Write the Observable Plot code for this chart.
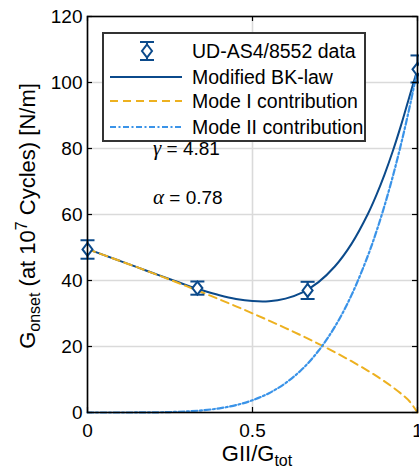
<!DOCTYPE html>
<html><head><meta charset="utf-8">
<script src="https://cdn.jsdelivr.net/npm/d3@7"></script>
<script src="https://cdn.jsdelivr.net/npm/@observablehq/plot@0.6"></script>
<style>body{margin:0;background:#fff} svg{display:block}</style>
</head><body><div id="chart"></div>
<script>
// ---- data ----
const xTicks = [0, 0.5, 1];
const yTicks = [0, 20, 40, 60, 80, 100, 120];

// measured points (mode mixity, mean, lower, upper)
const dataX    = [0, 0.333, 0.667, 1];
const dataMean = [49.4, 37.7, 37.0, 104.0];
const errLow   = [46.6, 35.7, 34.4, 100.0];
const errHigh  = [52.2, 39.7, 39.6, 108.2];

// curves sampled along GII/Gtot
const phi    = [0,0.05,0.1,0.15,0.2,0.25,0.3,0.35,0.4,0.45,0.5,0.55,0.6,0.65,0.7,0.75,0.8,0.85,0.875,0.9,0.925,0.95,0.975,1];
const modeI  = [49.5,47.7,45.88,44.04,42.15,40.24,38.29,36.3,34.26,32.18,30.05,27.85,25.59,23.25,20.81,18.25,15.54,12.63,11.08,9.43,7.67,5.73,3.48,0];
const modeII = [0,0,0.002,0.011,0.045,0.132,0.317,0.667,1.27,2.23,3.71,5.86,8.91,13.09,18.7,26.06,35.56,47.6,54.71,62.65,71.48,81.27,92.07,104];
const total  = [49.5,47.7,45.88,44.05,42.2,40.37,38.61,36.97,35.53,34.41,33.76,33.71,34.5,36.34,39.51,44.31,51.1,60.23,65.79,72.08,79.15,87.0,95.55,104];

const legendLabels = ["UD-AS4/8552 data", "Modified BK-law", "Mode I contribution", "Mode II contribution"];
const annotations = [{g: "γ", v: " = 4.81", y: 78}, {g: "α", v: " = 0.78", y: 63}];

// ---- styling ----
const dark = "#0b4a8b", orange = "#edb120", light = "#3a93e8";
const W = 419, H = 472, mL = 87, mR = 2, mT = 16, mB = 60;
const fw = W - mL - mR, fh = H - mT - mB;
const font = "'Liberation Sans', Arial, sans-serif";

const hline = w => ({draw(ctx){ ctx.moveTo(-w, 0); ctx.lineTo(w, 0); }});
const diamond = {draw(ctx){ ctx.moveTo(0,-6.5); ctx.lineTo(5,0); ctx.lineTo(0,6.5); ctx.lineTo(-5,0); ctx.closePath(); }};

const curve = phi.map((p, i) => ({p, m1: modeI[i], m2: modeII[i], t: total[i]}));
const pts = dataX.map((x, i) => ({x, y: dataMean[i], lo: errLow[i], hi: errHigh[i]}));

const plot = Plot.plot({
  width: W, height: H, marginLeft: mL, marginRight: mR, marginTop: mT, marginBottom: mB,
  style: {fontFamily: font, fontSize: "19px", background: "white", overflow: "visible", color: "black"},
  x: {domain: [0, 1]},
  y: {domain: [0, 120]},
  marks: [
    Plot.gridX(xTicks, {stroke: "#dadada", strokeOpacity: 1, strokeWidth: 1.6}),
    Plot.gridY(yTicks, {stroke: "#dadada", strokeOpacity: 1, strokeWidth: 1.6}),
    Plot.line(curve, {x: "p", y: "t", stroke: dark, strokeWidth: 2, curve: "catmull-rom"}),
    Plot.line(curve, {x: "p", y: "m1", stroke: orange, strokeWidth: 2, strokeDasharray: "8,5", curve: "catmull-rom"}),
    Plot.line(curve, {x: "p", y: "m2", stroke: light, strokeWidth: 2.2, strokeDasharray: "6,2.5,2,2.5", curve: "catmull-rom"}),
    Plot.ruleX(pts, {x: "x", y1: "lo", y2: "hi", stroke: dark, strokeWidth: 2}),
    Plot.dot(pts, {x: "x", y: "lo", symbol: hline(7), stroke: dark, strokeWidth: 2, r: 3}),
    Plot.dot(pts, {x: "x", y: "hi", symbol: hline(7), stroke: dark, strokeWidth: 2, r: 3}),
    Plot.dot(pts, {x: "x", y: "y", symbol: diamond, fill: "white", stroke: dark, strokeWidth: 2, r: 3}),
    Plot.axisX(xTicks, {tickSize: 0, tickPadding: 11, tickFormat: d => String(d), label: null, fontSize: 19}),
    Plot.axisY(yTicks, {tickSize: 0, tickPadding: 5, label: null, fontSize: 19}),
    Plot.ruleY(yTicks, {insetRight: fw - 5, stroke: "black", strokeWidth: 1.2}),
    Plot.ruleY(yTicks, {insetLeft: fw - 5, stroke: "black", strokeWidth: 1.2}),
    Plot.ruleX(xTicks, {insetTop: fh - 5, stroke: "black", strokeWidth: 1.2}),
    Plot.ruleX(xTicks, {insetBottom: fh - 5, stroke: "black", strokeWidth: 1.2}),
    Plot.frame({stroke: "black", strokeWidth: 1.6})
  ]
});

const svg = d3.select(plot);
const sx = plot.scale("x"), sy = plot.scale("y");

// annotations
annotations.forEach(a => {
  const t = svg.append("text").attr("x", sx.apply(0.2)).attr("y", sy.apply(a.y)).attr("text-anchor", "start")
    .attr("font-family", font).attr("font-size", 19).attr("fill", "black");
  t.append("tspan").attr("font-family", "'Liberation Serif', serif").attr("font-style", "italic").attr("font-size", 21).text(a.g);
  t.append("tspan").text(a.v);
});

// x label
const xl = svg.append("text").attr("x", 257).attr("y", 461).attr("text-anchor", "middle")
  .attr("font-family", font).attr("font-size", 22).attr("fill", "black");
xl.append("tspan").text("GII/G");
xl.append("tspan").attr("font-size", 16).attr("dy", 5).text("tot");

// y label
const yl = svg.append("text").attr("transform", "translate(35,216) rotate(-90)").attr("text-anchor", "middle")
  .attr("font-family", font).attr("font-size", 22).attr("fill", "black");
yl.append("tspan").text("G");
yl.append("tspan").attr("font-size", 16).attr("dy", 5).text("onset");
yl.append("tspan").attr("dy", -5).text(" (at 10");
yl.append("tspan").attr("font-size", 16).attr("dy", -8).text("7");
yl.append("tspan").attr("dy", 8).text(" Cycles) [N/m]");

// legend
const lg = svg.append("g");
lg.append("rect").attr("x", 103).attr("y", 33).attr("width", 262).attr("height", 108)
  .attr("fill", "white").attr("stroke", "#333").attr("stroke-width", 2);
const rowsY = [51, 77, 101, 127];
// row 1: errorbar + diamond icon
lg.append("line").attr("x1", 147).attr("x2", 147).attr("y1", rowsY[0]-9).attr("y2", rowsY[0]+9).attr("stroke", dark).attr("stroke-width", 2);
[-9, 9].forEach(d => lg.append("line").attr("x1", 140).attr("x2", 154).attr("y1", rowsY[0]+d).attr("y2", rowsY[0]+d).attr("stroke", dark).attr("stroke-width", 2));
lg.append("path").attr("d", `M147,${rowsY[0]-6.5}L152,${rowsY[0]}L147,${rowsY[0]+6.5}L142,${rowsY[0]}Z`).attr("fill", "white").attr("stroke", dark).attr("stroke-width", 2);
const lineStyles = [null, {c: dark, d: null}, {c: orange, d: "8,5"}, {c: light, d: "6,2.5,2,2.5"}];
lineStyles.forEach((s, i) => {
  if (!s) return;
  const l = lg.append("line").attr("x1", 110).attr("x2", 182).attr("y1", rowsY[i]).attr("y2", rowsY[i])
    .attr("stroke", s.c).attr("stroke-width", 2);
  if (s.d) l.attr("stroke-dasharray", s.d);
});
legendLabels.forEach((t, i) => {
  lg.append("text").attr("x", 192).attr("y", rowsY[i]).attr("dy", "0.35em").attr("text-anchor", "start")
    .attr("font-family", font).attr("font-size", 19.5).attr("fill", "black").text(t);
});

document.getElementById("chart").appendChild(plot);
</script>
</body></html>
